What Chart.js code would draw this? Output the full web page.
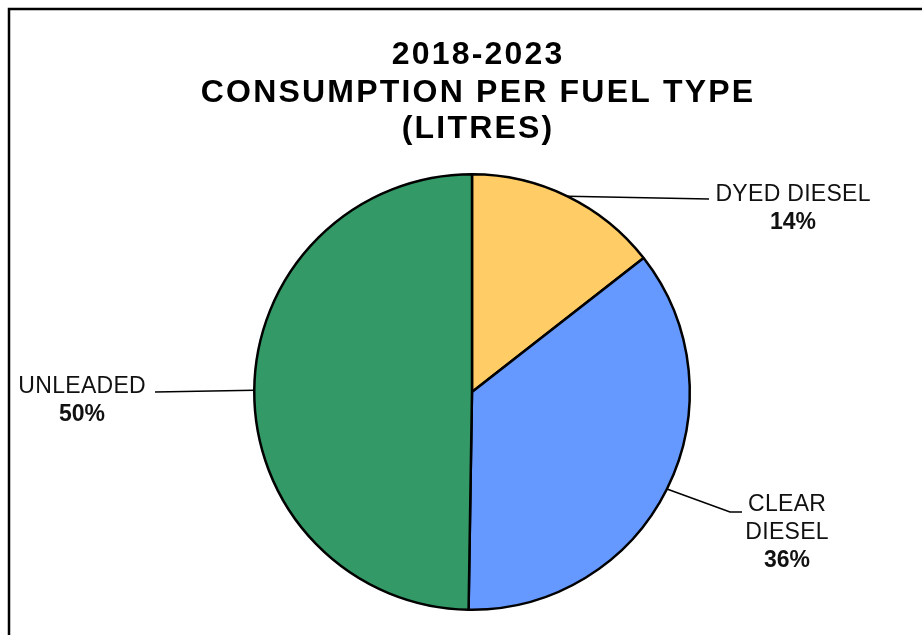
<!DOCTYPE html>
<html>
<head>
<meta charset="utf-8">
<title>Consumption per fuel type</title>
<script src="https://cdn.jsdelivr.net/npm/chart.js@4"></script>
<style>
    body { margin: 0; background: #fff; }
    #chartBox { width: 922px; height: 635px; }
</style>
</head>
<body>
<div id="chartBox"><canvas id="fuelChart" width="922" height="635"></canvas></div>
<script>
// values (share of litres, %)
let fuelTypes = ['DYED DIESEL', 'CLEAR DIESEL', 'UNLEADED'];
let fuelShares = [14.45, 35.8, 49.75];
let sliceColors = ['#FFCC66', '#6699FF', '#339966'];
let labelLines = [['DYED DIESEL'], ['CLEAR', 'DIESEL'], ['UNLEADED']];
let titleLines = ['2018-2023', 'CONSUMPTION PER FUEL TYPE', '(LITRES)'];

// where the outside labels sit, and the bends of their leader lines
let labelSpots = [
    { x: 793, y: 201, leader: [[709, 199]] },
    { x: 787, y: 511, leader: [[730, 512], [742, 512]] },
    { x: 82, y: 393, leader: [[155, 392]] }
];

let frameAndTitle = {
    id: 'frameAndTitle',
    beforeDraw(chart) {
        let ctx = chart.ctx;
        ctx.save();
        ctx.fillStyle = '#fff';
        ctx.fillRect(0, 0, chart.width, chart.height);
        ctx.strokeStyle = '#000';
        ctx.lineWidth = 2.5;
        ctx.beginPath();
        ctx.moveTo(9, chart.height + 5);
        ctx.lineTo(9, 9);
        ctx.lineTo(chart.width + 5, 9);
        ctx.stroke();

        ctx.fillStyle = '#000';
        ctx.font = 'bold 32px "Liberation Sans", Arial, sans-serif';
        ctx.letterSpacing = '2.2px';
        ctx.textAlign = 'center';
        ctx.textBaseline = 'alphabetic';
        let baselines = [64, 102, 138];
        for (let i = 0; i < titleLines.length; i++) {
            ctx.fillText(titleLines[i], 477 + 1.1, baselines[i]);
        }
        ctx.restore();
    }
};

let outsideLabels = {
    id: 'outsideLabels',
    afterDatasetsDraw(chart) {
        let ctx = chart.ctx;
        let arcs = chart.getDatasetMeta(0).data;
        let total = fuelShares.reduce((a, b) => a + b, 0);
        ctx.save();
        for (let i = 0; i < arcs.length; i++) {
            let arc = arcs[i];
            let mid = (arc.startAngle + arc.endAngle) / 2;
            let spot = labelSpots[i];
            ctx.strokeStyle = '#000';
            ctx.lineWidth = 1.6;
            ctx.beginPath();
            ctx.moveTo(arc.x + Math.cos(mid) * arc.outerRadius, arc.y + Math.sin(mid) * arc.outerRadius);
            spot.leader.forEach(p => ctx.lineTo(p[0], p[1]));
            ctx.stroke();

            ctx.fillStyle = '#111';
            ctx.textAlign = 'center';
            ctx.textBaseline = 'alphabetic';
            ctx.letterSpacing = '0.3px';
            ctx.font = '23px "Liberation Sans", Arial, sans-serif';
            let y = spot.y;
            labelLines[i].forEach(line => {
                ctx.fillText(line, spot.x + 0.15, y);
                y += 28;
            });
            ctx.font = 'bold 23px "Liberation Sans", Arial, sans-serif';
            ctx.letterSpacing = '0px';
            ctx.fillText(Math.round(fuelShares[i] / total * 100) + '%', spot.x, y);
        }
        ctx.restore();
    }
};

new Chart(document.getElementById('fuelChart'), {
    type: 'pie',
    data: {
        labels: fuelTypes,
        datasets: [{
            data: fuelShares,
            backgroundColor: sliceColors,
            borderColor: '#000',
            borderWidth: 2.5
        }]
    },
    options: {
        responsive: false,
        animation: false,
        devicePixelRatio: 1,
        layout: {
            padding: { left: 253, right: 231, top: 172, bottom: 23 }
        },
        plugins: {
            legend: { display: false },
            tooltip: { enabled: false },
            title: { display: false }
        }
    },
    plugins: [frameAndTitle, outsideLabels]
});
</script>
</body>
</html>
